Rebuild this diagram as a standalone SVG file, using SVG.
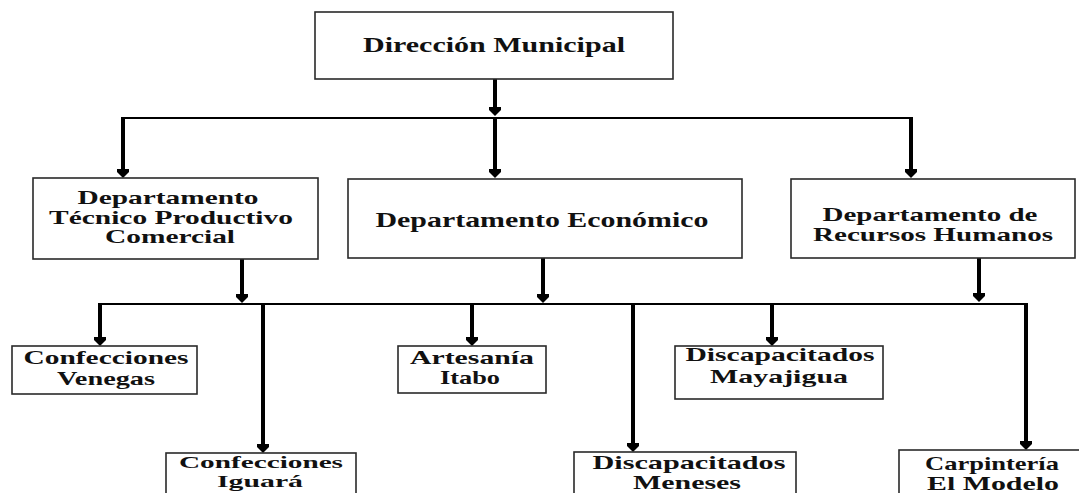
<svg xmlns="http://www.w3.org/2000/svg" width="1079" height="493" viewBox="0 0 1079 493">
<style>
.box{fill:#fff;stroke:#2a2a2a;stroke-width:1.6}
.t{font-family:'Liberation Serif','Times New Roman','DejaVu Serif',serif;font-weight:bold;fill:#111;text-anchor:middle}
.t20{font-size:21px}
.t18{font-size:19px}
.t17{font-size:17px}
.v{stroke:#000;stroke-width:4;fill:none}
.h{stroke:#000;stroke-width:2;fill:none}
</style>
<defs>
<marker id="arr" markerUnits="userSpaceOnUse" markerWidth="14" markerHeight="14" viewBox="0 -7 12 14" refX="3" refY="0" orient="auto">
<path d="M0,-6 L3,-6 L9,0 L3,6 L0,6 z" fill="#000"/>
</marker>
</defs>
<rect width="1079" height="493" fill="#fff"/>
<g id="connectors">
<path class="h" d="M122,118 H912"/>
<path class="v" d="M495,79 V110" marker-end="url(#arr)"/>
<path class="v" d="M495,118 V172" marker-end="url(#arr)"/>
<path class="v" d="M123,117 V172" marker-end="url(#arr)"/>
<path class="v" d="M911,117 V172" marker-end="url(#arr)"/>
<path class="h" d="M99,304 H1027"/>
<path class="v" d="M242,259 V297" marker-end="url(#arr)"/>
<path class="v" d="M543,258 V297" marker-end="url(#arr)"/>
<path class="v" d="M979,258 V296" marker-end="url(#arr)"/>
<path class="v" d="M100,303 V340" marker-end="url(#arr)"/>
<path class="v" d="M263,303 V447" marker-end="url(#arr)"/>
<path class="v" d="M472,303 V340" marker-end="url(#arr)"/>
<path class="v" d="M633,303 V446" marker-end="url(#arr)"/>
<path class="v" d="M772,303 V340" marker-end="url(#arr)"/>
<path class="v" d="M1026,303 V444" marker-end="url(#arr)"/>
</g>
<g id="direccion">
<rect class="box" x="315" y="12" width="358" height="67"/>
<text class="t t20" x="494" y="52" textLength="262" lengthAdjust="spacingAndGlyphs">Dirección Municipal</text>
</g>
<g id="dep-tecnico">
<rect class="box" x="33" y="178" width="285" height="81"/>
<text class="t t18" x="168" y="204" textLength="181" lengthAdjust="spacingAndGlyphs">Departamento</text>
<text class="t t18" x="171" y="224" textLength="244" lengthAdjust="spacingAndGlyphs">Técnico Productivo</text>
<text class="t t18" x="170" y="243" textLength="130" lengthAdjust="spacingAndGlyphs">Comercial</text>
</g>
<g id="dep-economico">
<rect class="box" x="348" y="179" width="394" height="79"/>
<text class="t t20" x="542" y="227" textLength="333" lengthAdjust="spacingAndGlyphs">Departamento Económico</text>
</g>
<g id="dep-rrhh">
<rect class="box" x="791" y="179" width="284" height="79"/>
<text class="t t18" x="930" y="221" textLength="215" lengthAdjust="spacingAndGlyphs">Departamento de</text>
<text class="t t18" x="933" y="241" textLength="240" lengthAdjust="spacingAndGlyphs">Recursos Humanos</text>
</g>
<g id="venegas">
<rect class="box" x="12" y="346" width="185" height="48"/>
<text class="t t18" x="106" y="364" textLength="165" lengthAdjust="spacingAndGlyphs">Confecciones</text>
<text class="t t18" x="106" y="385" textLength="98" lengthAdjust="spacingAndGlyphs">Venegas</text>
</g>
<g id="iguara">
<rect class="box" x="166" y="453" width="190" height="60"/>
<text class="t t17" x="261" y="468" textLength="164" lengthAdjust="spacingAndGlyphs">Confecciones</text>
<text class="t t17" x="260" y="487" textLength="86" lengthAdjust="spacingAndGlyphs">Iguará</text>
</g>
<g id="artesania">
<rect class="box" x="398" y="346" width="148" height="47"/>
<text class="t t18" x="472" y="364" textLength="124" lengthAdjust="spacingAndGlyphs">Artesanía</text>
<text class="t t18" x="470" y="384" textLength="60" lengthAdjust="spacingAndGlyphs">Itabo</text>
</g>
<g id="mayajigua">
<rect class="box" x="675" y="346" width="208" height="53"/>
<text class="t t18" x="780" y="361" textLength="189" lengthAdjust="spacingAndGlyphs">Discapacitados</text>
<text class="t t18" x="779" y="383" textLength="138" lengthAdjust="spacingAndGlyphs">Mayajigua</text>
</g>
<g id="meneses">
<rect class="box" x="574" y="452" width="222" height="60"/>
<text class="t t18" x="689" y="469" textLength="193" lengthAdjust="spacingAndGlyphs">Discapacitados</text>
<text class="t t18" x="687" y="489" textLength="108" lengthAdjust="spacingAndGlyphs">Meneses</text>
</g>
<g id="carpinteria">
<rect class="box" x="899" y="450" width="200" height="60"/>
<text class="t t18" x="992" y="470" textLength="134" lengthAdjust="spacingAndGlyphs">Carpintería</text>
<text class="t t18" x="993" y="490" textLength="132" lengthAdjust="spacingAndGlyphs">El Modelo</text>
</g>
</svg>
